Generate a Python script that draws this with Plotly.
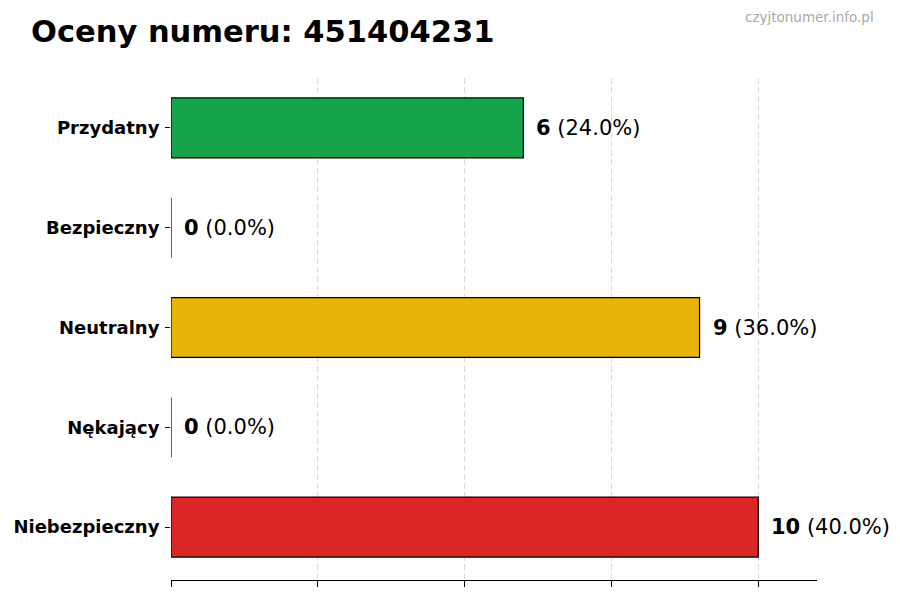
import plotly.graph_objects as go

categories = ["Przydatny", "Bezpieczny", "Neutralny", "Nękający", "Niebezpieczny"]
counts = [6, 0, 9, 0, 10]
colors = ["#16a34a", "#22c55e", "#eab308", "#f97316", "#dc2626"]
total = sum(counts)
x_ticks = [0, 2.5, 5, 7.5, 10]

# page is drawn with an 8px body margin, so figure coords are shifted by 8
fig = go.Figure()
fig.add_trace(go.Bar(
    y=categories, x=counts, orientation="h", width=0.6,
    marker=dict(color=colors, line=dict(color="#000000", width=1.2)),
    hoverinfo="skip",
))

for cat, n in zip(categories, counts):
    fig.add_annotation(
        x=n, y=cat, xanchor="left", yanchor="middle", xshift=11, showarrow=False,
        text=f"<b>{n}</b> ({n / total * 100:.1f}%)",
        font=dict(family="DejaVu Sans", size=21, color="#000000"),
    )

fig.add_annotation(
    text="czyjtonumer.info.pl", xref="paper", yref="paper", x=1.0913, y=1.1215,
    xanchor="right", yanchor="middle", showarrow=False,
    font=dict(family="DejaVu Sans", size=13.5, color="#a8a8a8"),
)

fig.update_layout(
    width=900, height=600,
    margin=dict(l=163, r=91, t=70, b=28),
    paper_bgcolor="white", plot_bgcolor="white",
    showlegend=False,
    title=dict(text="<b>Oceny numeru: 451404231</b>", x=23 / 900, xanchor="left",
               y=1 - 23 / 600, yanchor="middle",
               font=dict(family="DejaVu Sans", size=30.5, color="#000000")),
    xaxis=dict(range=[0, 11], tickvals=x_ticks, showticklabels=False,
               ticks="outside", ticklen=6, tickcolor="#000000",
               showline=True, linecolor="#000000", linewidth=1,
               showgrid=True, gridcolor="#dcdcdc", griddash="6px,3px", gridwidth=1,
               zeroline=False, automargin=False),
    yaxis=dict(categoryorder="array", categoryarray=categories, range=[4.53, -0.5],
               ticks="outside", ticklen=5, tickcolor="#000000",
               showline=False, showgrid=False, zeroline=False, automargin=False,
               tickfont=dict(family="DejaVu Sans", size=18, color="#000000"),
               ticklabelstandoff=2),
)
fig.update_yaxes(ticktext=[f"<b>{c}</b>" for c in categories], tickvals=categories)

fig.write_html("out.html")
